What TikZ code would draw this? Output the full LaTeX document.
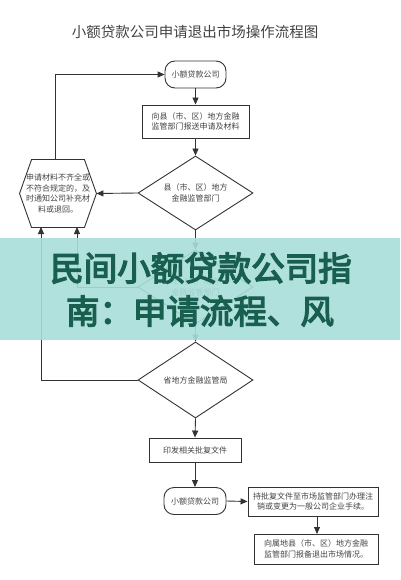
\documentclass[tikz,border=0pt]{standalone}
\usepackage{fontspec}
\newfontfamily\cjk{Noto Sans CJK SC}
\newfontfamily\cjkbold{Noto Sans CJK SC}[FakeBold=4]
\usetikzlibrary{shapes.geometric,arrows.meta,calc}
\definecolor{linec}{HTML}{333333}
\definecolor{txtc}{HTML}{444444}
\definecolor{bandc}{HTML}{A9DED9}
\definecolor{bandtxt}{HTML}{185F50}
\tikzset{
  x=1pt,y=1pt,
  base/.style={draw=linec,line width=0.9pt,font=\cjk\fontsize{8}{10.5}\selectfont,text=txtc,align=center,inner sep=1pt},
  roundbox/.style={base,rounded corners=10pt,minimum width=61pt,minimum height=27pt},
  sqbox/.style={base,minimum height=27pt},
  decide/.style={base,diamond,aspect=1.55,minimum width=115pt,minimum height=74pt,inner sep=0pt},
  arr/.style={draw=linec,line width=0.9pt,-{Triangle[length=7pt,width=6pt]}},
  plainline/.style={draw=linec,line width=0.9pt}
}
\begin{document}
\begin{tikzpicture}
\useasboundingbox (0,0) rectangle (400,-580);
\fill[white] (0,0) rectangle (400,-580);
\node[font=\cjk\fontsize{14.5}{16}\selectfont,text=txtc] (title) at (195,-32) {小额贷款公司申请退出市场操作流程图};
\node[roundbox] (n1) at (195.5,-74.5) {小额贷款公司};
\node[sqbox,minimum width=107pt,minimum height=33pt] (b2) at (195.5,-121.5) {向县（市、区）地方金融\\监管部门报送申请及材料};
\node[decide] (d1) at (195.5,-193) {县（市、区）地方\\金融监管部门};
\node[base,draw=none,minimum width=76pt,minimum height=67pt,inner sep=0pt] (hex) at (58,-193.5) {申请材料不齐全或\\不符合规定的，及\\时通知公司补充材\\料或退回。};
\draw[plainline] (hex.west) -- ($(hex.north west)+(12,0)$) -- ($(hex.north east)+(-12,0)$) -- (hex.east) -- ($(hex.south east)+(-12,0)$) -- ($(hex.south west)+(12,0)$) -- cycle;
\node[decide] (dh) at (195.5,-287) {市（州）地方\\金融监管部门};
\node[decide,minimum height=76pt] (d2) at (195.5,-380) {省地方金融监管局};
\node[sqbox,minimum width=92pt,minimum height=24pt] (b3) at (195,-450) {印发相关批复文件};
\node[roundbox,minimum width=62pt] (n2) at (195,-501) {小额贷款公司};
\node[sqbox,minimum width=130pt,minimum height=29pt] (b4) at (313,-501.5) {持批复文件至市场监管部门办理注\\销或变更为一般公司企业手续。};
\node[sqbox,minimum width=124pt,minimum height=30pt] (b5) at (316,-549) {向属地县（市、区）地方金融\\监管部门报备退出市场情况。};
\coordinate (htop) at (55,-160);
\coordinate (hb1) at (41,-227);
\coordinate (hb2) at (77,-227);
\draw[arr] (n1) -- (b2);
\draw[arr] (b2) -- (d1);
\draw[arr] (d1.west) -- (hex.east);
\draw[arr] (htop) |- (n1.west);
\draw[arr] (d1.south) -- (dh.north);
\draw[arr] (dh.south) -- (d2.north);
\draw[arr] (dh.west) -| (hb2);
\draw[arr] (d2.west) -| (hb1);
\draw[arr] (d2.south) -- (b3.north);
\draw[arr] (b3.south) -- (n2.north);
\draw[arr] (n2.east) -- (b4.west);
\coordinate (b5top) at (317,-534);
\draw[arr] (b4.south -| b5top) -- (b5top);
\fill[bandc,opacity=0.9] (0,-238) rectangle (400,-340);
\node[font=\cjkbold\fontsize{33.5}{36}\selectfont,text=bandtxt] (band1) at (201,-268) {民间小额贷款公司指};
\node[font=\cjkbold\fontsize{33.5}{36}\selectfont,text=bandtxt] (band2) at (200,-311) {南：申请流程、风};
\end{tikzpicture}
\end{document}
